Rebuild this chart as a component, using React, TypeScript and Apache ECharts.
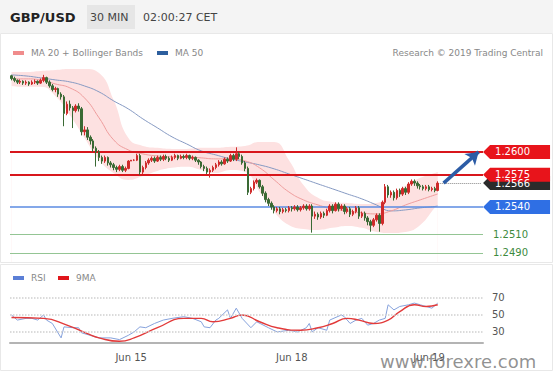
import React, { useEffect, useRef } from "react";
import * as echarts from "echarts";

// ---------- DATA ----------
const SLOTS = 162; // category slots across the price axis (30-min bars + empty space on right)

// [open, close, low, high]
const candles: number[][] = [
  [1.2683, 1.268, 1.2678, 1.2684], [1.268, 1.2678, 1.2676, 1.2682], [1.2678, 1.2676, 1.2674, 1.2679],
  [1.2676, 1.2677, 1.2674, 1.2679], [1.2677, 1.2675, 1.2673, 1.2678], [1.2675, 1.2676, 1.2673, 1.2678],
  [1.2676, 1.2674, 1.2672, 1.2677], [1.2674, 1.2676, 1.2673, 1.2678], [1.2676, 1.2677, 1.2674, 1.2679],
  [1.2677, 1.2675, 1.2673, 1.2678], [1.2675, 1.2678, 1.2674, 1.268], [1.2678, 1.2681, 1.2676, 1.2684],
  [1.2681, 1.2676, 1.2674, 1.2682], [1.2676, 1.2672, 1.267, 1.2678], [1.2672, 1.2668, 1.2666, 1.2674],
  [1.2668, 1.2669, 1.2665, 1.2671], [1.2669, 1.2663, 1.266, 1.267], [1.2663, 1.266, 1.2657, 1.2665],
  [1.266, 1.2642, 1.2628, 1.2662], [1.2642, 1.2652, 1.264, 1.2655], [1.2652, 1.2648, 1.2645, 1.2656],
  [1.2648, 1.2645, 1.2626, 1.265], [1.2645, 1.265, 1.2643, 1.2652], [1.265, 1.2647, 1.2644, 1.2653],
  [1.2647, 1.2622, 1.2618, 1.2649], [1.2622, 1.2624, 1.2618, 1.2628], [1.2624, 1.2616, 1.2613, 1.2627],
  [1.2616, 1.2612, 1.2608, 1.2618], [1.2612, 1.2604, 1.26, 1.2614], [1.2604, 1.26, 1.2584, 1.2606],
  [1.26, 1.2594, 1.259, 1.2602], [1.2594, 1.259, 1.2587, 1.2596], [1.259, 1.2594, 1.2588, 1.2596],
  [1.2594, 1.2588, 1.2585, 1.2595], [1.2588, 1.2586, 1.2583, 1.259], [1.2586, 1.2583, 1.258, 1.2588],
  [1.2583, 1.2581, 1.2578, 1.2585], [1.2581, 1.2584, 1.2579, 1.2586], [1.2584, 1.258, 1.2578, 1.2586],
  [1.258, 1.2582, 1.2578, 1.2584], [1.2582, 1.259, 1.2581, 1.2591], [1.259, 1.2591, 1.259, 1.2591],
  [1.2591, 1.2591, 1.259, 1.2592], [1.2591, 1.2596, 1.259, 1.2598], [1.2596, 1.2578, 1.2575, 1.2598],
  [1.2578, 1.2583, 1.2576, 1.2585], [1.2583, 1.2588, 1.2581, 1.259], [1.2588, 1.2591, 1.2586, 1.2593],
  [1.2591, 1.2593, 1.2589, 1.2595], [1.2593, 1.259, 1.2588, 1.2595], [1.259, 1.2594, 1.2589, 1.2596],
  [1.2594, 1.2592, 1.259, 1.2596], [1.2592, 1.2595, 1.259, 1.2597], [1.2595, 1.2593, 1.2591, 1.2597],
  [1.2593, 1.2591, 1.2589, 1.2595], [1.2591, 1.2594, 1.259, 1.2596], [1.2594, 1.2596, 1.2592, 1.2598],
  [1.2596, 1.2593, 1.2591, 1.2597], [1.2593, 1.2595, 1.2592, 1.2597], [1.2595, 1.2594, 1.2592, 1.2597],
  [1.2594, 1.2596, 1.2592, 1.2598], [1.2596, 1.2593, 1.2591, 1.2597], [1.2593, 1.2594, 1.2591, 1.2596],
  [1.2594, 1.2591, 1.2589, 1.2595], [1.2591, 1.2589, 1.2586, 1.2592], [1.2589, 1.2584, 1.2582, 1.259],
  [1.2584, 1.2582, 1.2579, 1.2586], [1.2582, 1.2578, 1.2576, 1.2584], [1.2578, 1.258, 1.2572, 1.2582],
  [1.258, 1.2583, 1.2578, 1.2585], [1.2583, 1.2586, 1.2581, 1.2588], [1.2586, 1.2589, 1.2584, 1.2591],
  [1.2589, 1.2587, 1.2585, 1.2591], [1.2587, 1.2592, 1.2586, 1.2594], [1.2592, 1.259, 1.2588, 1.2594],
  [1.259, 1.2596, 1.2589, 1.2598], [1.2596, 1.2592, 1.259, 1.2598], [1.2592, 1.2598, 1.259, 1.2605],
  [1.2598, 1.2595, 1.2592, 1.26], [1.2595, 1.2588, 1.2586, 1.2597], [1.2588, 1.2582, 1.2579, 1.259],
  [1.2582, 1.2556, 1.2553, 1.2584], [1.2556, 1.256, 1.2554, 1.2562], [1.256, 1.2567, 1.2558, 1.2569],
  [1.2567, 1.2569, 1.2565, 1.2571], [1.2569, 1.2562, 1.256, 1.257], [1.2562, 1.2555, 1.2552, 1.2564],
  [1.2555, 1.2548, 1.2545, 1.2557], [1.2548, 1.2544, 1.2541, 1.255], [1.2544, 1.254, 1.2537, 1.2546],
  [1.254, 1.2536, 1.2533, 1.2542], [1.2536, 1.2538, 1.2534, 1.254], [1.2538, 1.2535, 1.2532, 1.254],
  [1.2535, 1.2537, 1.2533, 1.2539], [1.2537, 1.2536, 1.2534, 1.2539], [1.2536, 1.2539, 1.2534, 1.2541],
  [1.2539, 1.2538, 1.2535, 1.2541], [1.2538, 1.254, 1.2536, 1.2542], [1.254, 1.2537, 1.2535, 1.2542],
  [1.2537, 1.2539, 1.2535, 1.2541], [1.2539, 1.2541, 1.2537, 1.2543], [1.2541, 1.2538, 1.2536, 1.2543],
  [1.2538, 1.2541, 1.2536, 1.2543], [1.2541, 1.253, 1.2512, 1.2543], [1.253, 1.2532, 1.2527, 1.2535],
  [1.2532, 1.2529, 1.2526, 1.2534], [1.2529, 1.2533, 1.2527, 1.2535], [1.2533, 1.2531, 1.2528, 1.2535],
  [1.2531, 1.2536, 1.253, 1.2538], [1.2536, 1.2541, 1.2534, 1.2543], [1.2541, 1.2536, 1.2533, 1.2543],
  [1.2536, 1.2543, 1.2535, 1.2545], [1.2543, 1.2538, 1.2535, 1.2545], [1.2538, 1.2541, 1.2536, 1.2543],
  [1.2541, 1.2535, 1.2532, 1.2543], [1.2535, 1.2538, 1.2533, 1.254], [1.2538, 1.2532, 1.2529, 1.254],
  [1.2532, 1.2535, 1.253, 1.2537], [1.2535, 1.2539, 1.2533, 1.2541], [1.2539, 1.253, 1.2527, 1.2541],
  [1.253, 1.2533, 1.2528, 1.2535], [1.2533, 1.2528, 1.2525, 1.2535], [1.2528, 1.2524, 1.252, 1.253],
  [1.2524, 1.252, 1.2513, 1.2526], [1.252, 1.2526, 1.2518, 1.2528], [1.2526, 1.2531, 1.2524, 1.2533],
  [1.2531, 1.2522, 1.2513, 1.2533], [1.2522, 1.2545, 1.252, 1.2547], [1.2545, 1.2562, 1.2543, 1.2565],
  [1.2562, 1.2553, 1.255, 1.2564], [1.2553, 1.2556, 1.255, 1.2558], [1.2556, 1.255, 1.2547, 1.2558],
  [1.255, 1.2558, 1.2548, 1.256], [1.2558, 1.2554, 1.2551, 1.256], [1.2554, 1.256, 1.2552, 1.2562],
  [1.256, 1.2556, 1.2553, 1.2562], [1.2556, 1.2565, 1.2554, 1.2567], [1.2565, 1.2568, 1.2563, 1.257],
  [1.2568, 1.2566, 1.2563, 1.257], [1.2566, 1.2563, 1.256, 1.2568], [1.2563, 1.2562, 1.2559, 1.2565],
  [1.2562, 1.256, 1.2558, 1.2564], [1.256, 1.2562, 1.2558, 1.2564], [1.2562, 1.2559, 1.2557, 1.2564],
  [1.2559, 1.256, 1.2557, 1.2562], [1.256, 1.2558, 1.2556, 1.2562], [1.2558, 1.2566, 1.2557, 1.2568],
];

// overlay lines read at sampled bar indices
const bandIdx = [0, 5, 10, 15, 20, 25, 30, 35, 40, 45, 50, 55, 60, 65, 70, 75, 80, 85, 90, 95, 100, 105, 110, 115, 120, 125, 130, 135, 140, 145, 146];
const ma50 = [1.26839, 1.26828, 1.26807, 1.26785, 1.26763, 1.26719, 1.26654, 1.26556, 1.26469, 1.2636, 1.26262, 1.26164, 1.26087, 1.26011, 1.25967, 1.25924, 1.25891, 1.25858, 1.25815, 1.2576, 1.25706, 1.25651, 1.25597, 1.25542, 1.25488, 1.25422, 1.25357, 1.25368, 1.2539, 1.25405, 1.25411];
const ma20 = [1.26796, 1.26796, 1.26785, 1.26741, 1.26698, 1.26589, 1.26371, 1.26131, 1.26022, 1.25978, 1.25956, 1.25946, 1.25946, 1.25935, 1.25924, 1.25924, 1.25902, 1.25826, 1.25695, 1.25564, 1.25477, 1.25422, 1.25379, 1.25357, 1.25335, 1.25324, 1.25357, 1.25422, 1.25477, 1.25531, 1.25542];
const bbUpper = [1.26872, 1.26872, 1.26883, 1.26894, 1.26905, 1.26905, 1.26861, 1.26567, 1.26153, 1.26065, 1.26044, 1.26033, 1.26033, 1.26044, 1.26044, 1.26055, 1.26065, 1.26109, 1.26109, 1.25913, 1.2564, 1.25499, 1.25455, 1.25444, 1.25433, 1.25444, 1.25531, 1.2563, 1.25717, 1.25771, 1.25782];
const bbLower = [1.26719, 1.26709, 1.26709, 1.2661, 1.26403, 1.26153, 1.25913, 1.25771, 1.25695, 1.25738, 1.25793, 1.25826, 1.25837, 1.25804, 1.25771, 1.25804, 1.25782, 1.25564, 1.25346, 1.25204, 1.25161, 1.2515, 1.25172, 1.25193, 1.25172, 1.25128, 1.25117, 1.25128, 1.25204, 1.2539, 1.25422];

// RSI panel
const rsiIdx = [0, 2, 5, 7, 9, 11, 12, 14, 17, 18, 21, 23, 24, 27, 30, 34, 37, 40, 42, 44, 46, 49, 52, 55, 59, 62, 65, 66, 68, 70, 71, 74, 75, 77, 79, 82, 84, 88, 91, 95, 98, 101, 102, 103, 105, 108, 109, 113, 114, 116, 118, 120, 122, 124, 126, 128, 129, 131, 133, 136, 138, 140, 142, 144, 146];
const rsiVal = [50, 44, 46, 46, 44, 50, 44, 40, 23, 36, 35, 35, 29, 26, 23, 23, 21, 26, 30, 36, 35, 40, 44, 46, 48, 46, 42, 36, 35, 44, 46, 56, 46, 58, 46, 35, 42, 35, 30, 32, 30, 35, 40, 30, 35, 32, 44, 50, 48, 40, 44, 46, 38, 40, 44, 46, 62, 56, 60, 62, 64, 62, 60, 58, 64];
const rsiMaIdx = [0, 11, 19, 26, 30, 37, 42, 50, 59, 65, 69, 75, 79, 85, 91, 99, 105, 110, 115, 119, 124, 129, 133, 138, 142, 146];
const rsiMaVal = [47, 46, 38, 28, 23, 19, 23, 35, 46, 46, 42, 46, 50, 42, 35, 32, 35, 40, 46, 44, 40, 44, 54, 62, 60, 62];
const rsiLevels = [70, 50, 30];

// levels
const resistances = [1.26, 1.2575];
const pivot = 1.254;
const supports = [1.251, 1.249];
const lastPrice = 1.2566;
const target = 1.26;

// x-axis tick labels
const tickIdx = [41, 96, 143];
const tickNames = ["Jun 15", "Jun 18", "Jun 19"];

const FONT = '"DejaVu Sans", Verdana, sans-serif';

export default function App() {
  const ref = useRef<HTMLDivElement>(null);
  useEffect(() => {
    const chart = echarts.init(ref.current!, null, { renderer: "svg" });
    const cats = Array.from({ length: SLOTS }, (_, i) => String(i));
    const pairs = (idx: number[], vals: number[]) => idx.map((i, k) => [i, vals[k]]);
    const lastIdx = candles.length - 1;
    const boxPath = "path://M0,7 L7,0 L67,0 L67,14 L7,14 Z";
    const box = (v: number, color: string) => ({
      coord: [SLOTS - 1, v],
      value: v.toFixed(4),
      symbol: boxPath,
      symbolSize: [67, 14],
      symbolKeepAspect: false,
      symbolOffset: [35, 0],
      itemStyle: { color },
      label: {
        show: true,
        formatter: v.toFixed(4),
        color: "#fff",
        fontSize: 10,
        fontFamily: FONT,
        offset: [-4, 0],
      },
    });

    const option: any = {
      animation: false,
      backgroundColor: "#fff",
      textStyle: { fontFamily: FONT },
      grid: [
        { left: 10, width: 473, top: 62, height: 200 },
        { left: 10, width: 473, top: 289.5, height: 53.5 },
      ],
      xAxis: [
        { type: "category", data: cats, gridIndex: 0, show: false, boundaryGap: true },
        {
          type: "category",
          data: cats,
          gridIndex: 1,
          boundaryGap: true,
          axisLine: { lineStyle: { color: "#b4b4b4", width: 2 } },
          axisTick: { show: false },
          axisLabel: {
            interval: (i: number) => tickIdx.includes(i),
            formatter: (v: string) => {
              const k = tickIdx.indexOf(Number(v));
              return k >= 0 ? tickNames[k] : "";
            },
            color: "#555",
            fontSize: 10,
            fontFamily: FONT,
            margin: 9,
          },
        },
      ],
      yAxis: [
        { type: "value", gridIndex: 0, min: 1.248, max: 1.2698, show: false, scale: true },
        { type: "value", gridIndex: 1, min: 17, max: 80, show: false },
      ],
      series: [
        {
          type: "line",
          name: "bbUpper",
          data: pairs(bandIdx, bbUpper),
          smooth: true,
          showSymbol: false,
          lineStyle: { width: 0, opacity: 0 },
          areaStyle: { color: "#fde1e1", opacity: 1, origin: "start" },
          z: 1,
          silent: true,
        },
        {
          type: "line",
          name: "bbLower",
          data: pairs(bandIdx, bbLower),
          smooth: true,
          showSymbol: false,
          lineStyle: { width: 0, opacity: 0 },
          areaStyle: { color: "#ffffff", opacity: 1, origin: "start" },
          z: 2,
          silent: true,
        },
        {
          type: "line",
          name: "MA 50",
          data: pairs(bandIdx, ma50),
          smooth: true,
          showSymbol: false,
          lineStyle: { width: 1, color: "#8599c2" },
          z: 3,
        },
        {
          type: "line",
          name: "MA 20",
          data: pairs(bandIdx, ma20),
          smooth: true,
          showSymbol: false,
          lineStyle: { width: 1, color: "#ee9d9d" },
          z: 3,
        },
        {
          type: "line",
          name: "levels",
          data: [],
          z: 4,
          markLine: {
            silent: true,
            symbol: "none",
            precision: 5,
            data: [
              ...resistances.map((v) => ({ yAxis: v, lineStyle: { color: "#d8161c", width: 2, type: "solid" }, label: { show: false } })),
              { yAxis: pivot, lineStyle: { color: "#5b8be2", width: 1.5, type: "solid" }, label: { show: false } },
              ...supports.map((v) => ({
                yAxis: v,
                lineStyle: { color: "#94c594", width: 1, type: "solid" },
                label: { show: true, position: "end", formatter: v.toFixed(4), color: "#3d8a3d", fontSize: 10, fontFamily: FONT, distance: 10 },
              })),
              [
                { coord: [lastIdx, lastPrice], lineStyle: { color: "#888", width: 1, type: "dotted" }, label: { show: false } },
                { coord: [SLOTS - 1, lastPrice] },
              ],
            ],
          },
        },
        {
          type: "candlestick",
          name: "GBP/USD",
          data: candles,
          barWidth: 2,
          z: 5,
          itemStyle: {
            color: "#cf2a2a",
            color0: "#3a6a34",
            borderColor: "#cf2a2a",
            borderColor0: "#3a6a34",
            borderWidth: 1,
          },
          markPoint: {
            silent: true,
            z: 8,
            data: [box(pivot, "#2f6fe4"), box(lastPrice, "#2b2b2b"), box(resistances[1], "#e8141b"), box(resistances[0], "#e8141b")],
          },
        },
        {
          type: "line",
          name: "arrow",
          data: [],
          z: 9,
          markLine: {
            silent: true,
            symbol: ["none", "arrow"],
            symbolSize: 12,
            precision: 5,
            lineStyle: { color: "#2c5ca6", width: 3.5, type: "solid" },
            label: { show: false },
            data: [[{ coord: [lastIdx + 2, lastPrice] }, { coord: [SLOTS - 2, target] }]],
          },
        },
        {
          type: "line",
          name: "RSI",
          xAxisIndex: 1,
          yAxisIndex: 1,
          data: pairs(rsiIdx, rsiVal),
          showSymbol: false,
          lineStyle: { width: 1, color: "#86a2dc" },
          z: 3,
          markLine: {
            silent: true,
            symbol: "none",
            lineStyle: { color: "#cfcfcf", width: 1.5, type: "dotted" },
            data: rsiLevels.map((v) => ({
              yAxis: v,
              label: { show: true, position: "end", formatter: String(v), color: "#555", fontSize: 10, fontFamily: FONT, distance: 9 },
            })),
          },
        },
        {
          type: "line",
          name: "9MA",
          xAxisIndex: 1,
          yAxisIndex: 1,
          data: pairs(rsiMaIdx, rsiMaVal),
          smooth: true,
          showSymbol: false,
          lineStyle: { width: 1.4, color: "#e23a3a" },
          z: 4,
        },
      ],
      graphic: [
        { type: "rect", shape: { x: 0, y: 0, width: 553, height: 33 }, style: { fill: "#f4f4f4" }, z: 0 },
        { type: "rect", shape: { x: 87, y: 5, width: 48, height: 24 }, style: { fill: "#e6e6e6" }, z: 1 },
        { type: "text", x: 10, y: 17, style: { text: "GBP/USD", font: `bold 13px ${FONT}`, fill: "#222", verticalAlign: "middle", textVerticalAlign: "middle" }, z: 2 },
        { type: "text", x: 90, y: 17, style: { text: "30 MIN", font: `11px ${FONT}`, fill: "#444", verticalAlign: "middle", textVerticalAlign: "middle" }, z: 2 },
        { type: "text", x: 143, y: 17, style: { text: "02:00:27 CET", font: `11px ${FONT}`, fill: "#444", verticalAlign: "middle", textVerticalAlign: "middle" }, z: 2 },
        { type: "rect", shape: { x: 0.5, y: 33.5, width: 552, height: 229 }, style: { fill: "none", stroke: "#e8e8e8", lineWidth: 1 }, z: 0 },
        { type: "rect", shape: { x: 0.5, y: 264.5, width: 552, height: 106 }, style: { fill: "none", stroke: "#e8e8e8", lineWidth: 1 }, z: 0 },
        { type: "rect", shape: { x: 13, y: 51, width: 11, height: 4 }, style: { fill: "#f08c8c" } },
        { type: "text", x: 31, y: 53, style: { text: "MA 20 + Bollinger Bands", font: `9px ${FONT}`, fill: "#888", verticalAlign: "middle", textVerticalAlign: "middle" } },
        { type: "rect", shape: { x: 157, y: 51, width: 11, height: 4 }, style: { fill: "#2d5f9e" } },
        { type: "text", x: 175, y: 53, style: { text: "MA 50", font: `9px ${FONT}`, fill: "#888", verticalAlign: "middle", textVerticalAlign: "middle" } },
        { type: "text", x: 543, y: 53, style: { text: "Research © 2019 Trading Central", font: `9px ${FONT}`, fill: "#888", align: "right", textAlign: "right", verticalAlign: "middle", textVerticalAlign: "middle" } },
        { type: "rect", shape: { x: 13, y: 276, width: 11, height: 4 }, style: { fill: "#5b7fd6" } },
        { type: "text", x: 31, y: 278, style: { text: "RSI", font: `9px ${FONT}`, fill: "#888", verticalAlign: "middle", textVerticalAlign: "middle" } },
        { type: "rect", shape: { x: 58, y: 276, width: 11, height: 4 }, style: { fill: "#e0161b" } },
        { type: "text", x: 76, y: 278, style: { text: "9MA", font: `9px ${FONT}`, fill: "#888", verticalAlign: "middle", textVerticalAlign: "middle" } },
        { type: "text", x: 380, y: 361, z: 100, style: { text: "www.forexre.com", font: `18px ${FONT}`, fill: "rgba(110,110,110,0.75)", verticalAlign: "middle", textVerticalAlign: "middle" } },
      ],
    };
    chart.setOption(option);
    return () => chart.dispose();
  }, []);
  return <div ref={ref} style={{ position: "absolute", left: 0, top: 0, width: 553, height: 375, background: "#fff" }} />;
}
